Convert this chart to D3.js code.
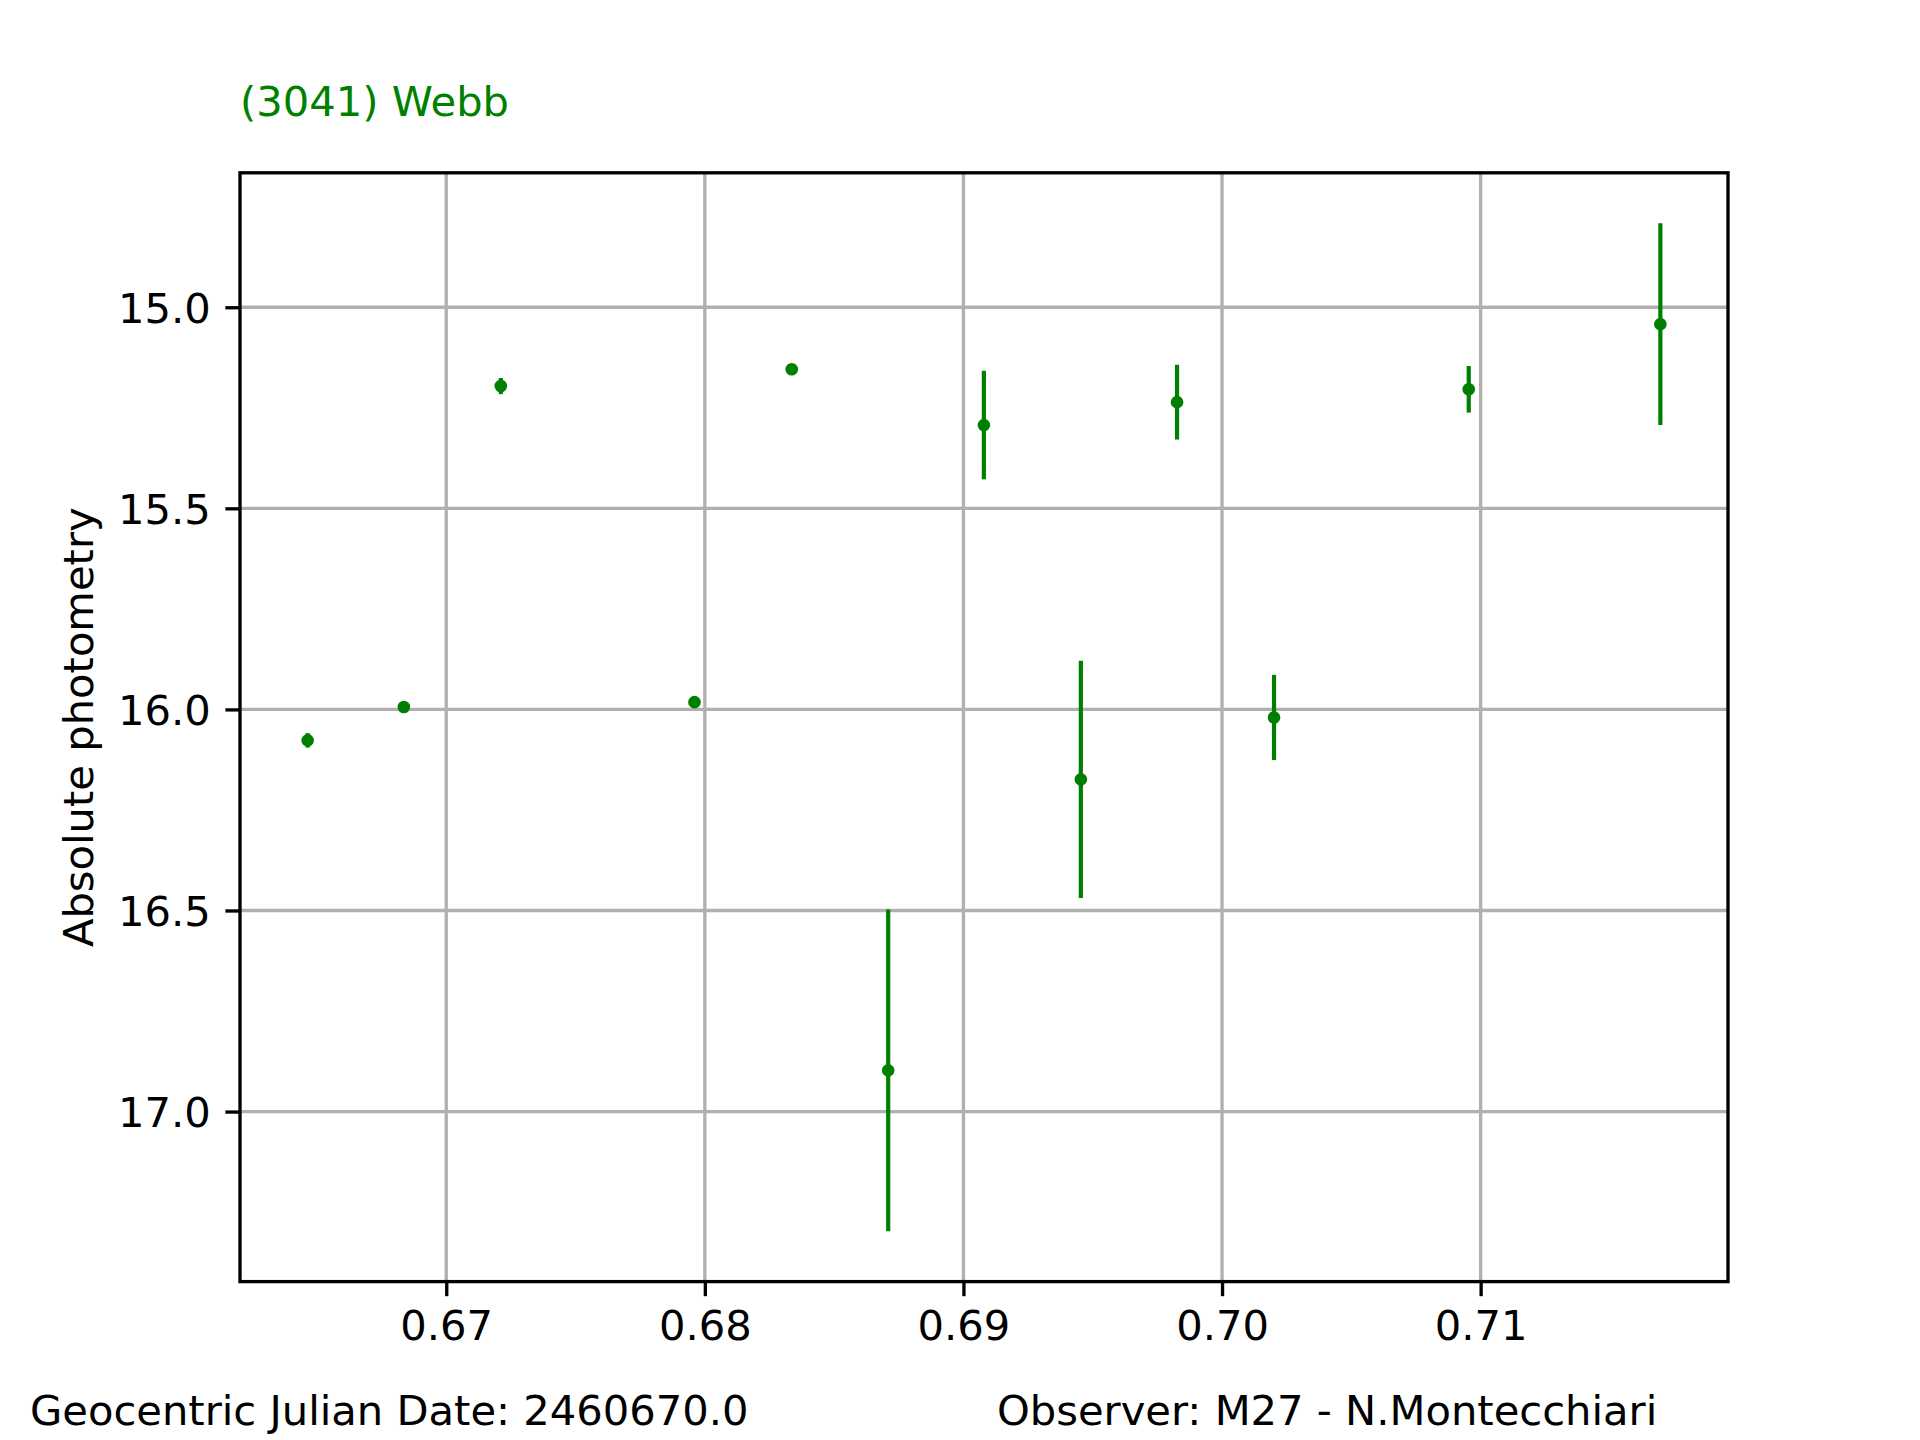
<!DOCTYPE html>
<html>
<head>
<meta charset="utf-8">
<script src="https://cdn.jsdelivr.net/npm/d3@7"></script>
<style>
  html, body { margin: 0; padding: 0; background: #ffffff; }
  svg { display: block; }
  text { font-family: "DejaVu Sans", sans-serif; }
</style>
</head>
<body>
<svg id="chart" width="1920" height="1440"></svg>
<script>
// ---- data ----
const jd = [0.66464, 0.66836, 0.67211, 0.67960, 0.68336, 0.68709, 0.69079, 0.69454, 0.69826, 0.70201, 0.70954, 0.71695];
const mag = [16.077, 15.994, 15.196, 15.982, 15.154, 16.8975, 15.293, 16.174, 15.236, 16.020, 15.204, 15.042];
const magErr = [0.018, 0.008, 0.020, 0.008, 0.010, 0.400, 0.135, 0.295, 0.093, 0.106, 0.058, 0.251];
const xTicks = [0.67, 0.68, 0.69, 0.70, 0.71];
const yTicks = [15.0, 15.5, 16.0, 16.5, 17.0];
const titleText = "(3041) Webb";
const yLabelText = "Absolute photometry";
const footerLeft = "Geocentric Julian Date: 2460670.0";
const footerRight = "Observer: M27 - N.Montecchiari";

// ---- layout ----
const W = 1920, H = 1440;
const L = 240, R = 1728, T = 172.8, B = 1281.6;
const FS = 41.67;
const GREEN = "#008000";

const svg = d3.select("#chart");
svg.append("rect").attr("width", W).attr("height", H).attr("fill", "#fff");

// domains with 5% margins like matplotlib
const xmin = d3.min(jd), xmax = d3.max(jd);
const xpad = (xmax - xmin) * 0.05;
const lo = d3.min(mag.map((v, i) => v - magErr[i]));
const hi = d3.max(mag.map((v, i) => v + magErr[i]));
const ypad = (hi - lo) * 0.05;

const x = d3.scaleLinear().domain([xmin - xpad, xmax + xpad]).range([L, R]);
const y = d3.scaleLinear().domain([lo - ypad, hi + ypad]).range([T, B]); // inverted magnitudes

// grid
const grid = svg.append("g");
grid.selectAll(".gx").data(xTicks).join("line")
  .attr("x1", d => x(d)).attr("x2", d => x(d)).attr("y1", T).attr("y2", B)
  .attr("stroke", "#b0b0b0").attr("stroke-width", 3.33);
grid.selectAll(".gy").data(yTicks).join("line")
  .attr("y1", d => y(d)).attr("y2", d => y(d)).attr("x1", L).attr("x2", R)
  .attr("stroke", "#b0b0b0").attr("stroke-width", 3.33);

// error bars
const pts = jd.map((v, i) => ({ x: v, y: mag[i], e: magErr[i] }));
svg.append("g").selectAll("line").data(pts).join("line")
  .attr("x1", d => x(d.x)).attr("x2", d => x(d.x))
  .attr("y1", d => y(d.y - d.e)).attr("y2", d => y(d.y + d.e))
  .attr("stroke", GREEN).attr("stroke-width", 4.2);

// markers
svg.append("g").selectAll("circle").data(pts).join("circle")
  .attr("cx", d => x(d.x)).attr("cy", d => y(d.y)).attr("r", 6.3)
  .attr("fill", GREEN);

// axes
const xAxis = d3.axisBottom(x).tickValues(xTicks).tickFormat(d3.format(".2f"))
  .tickSize(14.6).tickPadding(14.6);
const yAxis = d3.axisLeft(y).tickValues(yTicks).tickFormat(d3.format(".1f"))
  .tickSize(14.6).tickPadding(14.6);

const gx = svg.append("g").attr("transform", `translate(0,${B})`).call(xAxis);
const gy = svg.append("g").attr("transform", `translate(${L},0)`).call(yAxis);
[gx, gy].forEach(g => {
  g.select(".domain").remove();
  g.selectAll(".tick line").attr("stroke", "#000").attr("stroke-width", 3.33);
  g.selectAll(".tick text").attr("fill", "#000")
    .style("font-family", "'DejaVu Sans', sans-serif").style("font-size", FS + "px");
});
gy.selectAll(".tick text").attr("dy", "0.37em");

// spines
svg.append("rect").attr("x", L).attr("y", T).attr("width", R - L).attr("height", B - T)
  .attr("fill", "none").attr("stroke", "#000").attr("stroke-width", 3.33);

// title
svg.append("text").attr("x", 240).attr("y", 116)
  .attr("fill", GREEN).style("font-size", FS + "px").text(titleText);

// y label
svg.append("text")
  .attr("transform", `translate(93,${(T + B) / 2}) rotate(-90)`)
  .attr("text-anchor", "middle").attr("fill", "#000")
  .style("font-size", FS + "px").text(yLabelText);

// footer
svg.append("text").attr("x", 30).attr("y", 1425).attr("fill", "#000")
  .style("font-size", FS + "px").text(footerLeft);
svg.append("text").attr("x", 997).attr("y", 1425).attr("fill", "#000")
  .style("font-size", FS + "px").text(footerRight);
</script>
</body>
</html>
